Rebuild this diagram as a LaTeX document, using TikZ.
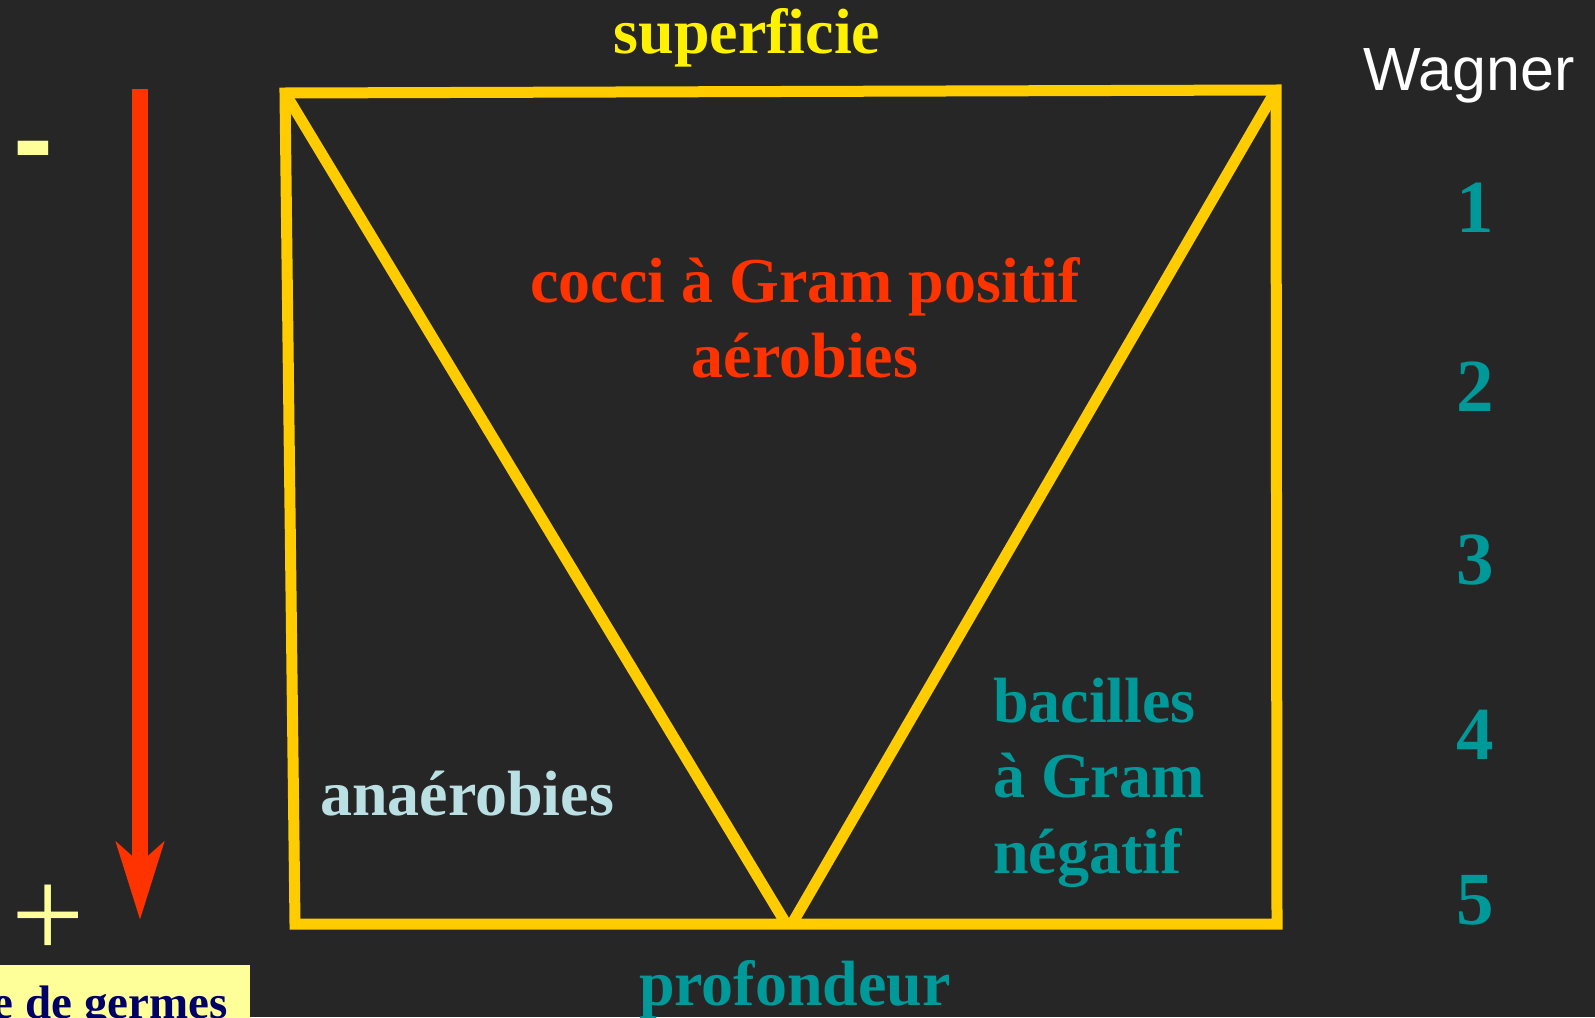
\documentclass[tikz,border=0pt]{standalone}
\usepackage{fontspec}
\setmainfont{Liberation Serif}[Ligatures=CommonOff]
\newfontfamily\arialf{Liberation Sans}
\usetikzlibrary{arrows.meta}
\definecolor{bg}{HTML}{262626}
\definecolor{boxyellow}{HTML}{FFCC00}
\definecolor{arrowred}{HTML}{FF3300}
\definecolor{tealc}{HTML}{009999}
\definecolor{lightblue}{HTML}{BBE0E3}
\definecolor{paleyellow}{HTML}{FFFF99}
\definecolor{navyc}{HTML}{000066}
\begin{document}
\begin{tikzpicture}[x=1pt,y=-1pt,
  lbl/.style={inner sep=0pt, outer sep=0pt, anchor=base, font=\bfseries\fontsize{64}{75}\selectfont},
  num/.style={inner sep=0pt, outer sep=0pt, anchor=base, text=tealc, font=\bfseries\fontsize{75}{90}\selectfont},
  frame/.style={draw=boxyellow, line width=11pt, line join=miter}]
\fill[bg] (0,0) rectangle (1595,1017);
\useasboundingbox (0,0) rectangle (1595,1017);

% frame and V
\coordinate (tl) at (285,93);
\coordinate (tr) at (1276,90);
\coordinate (br) at (1277,924);
\coordinate (bl) at (295,924);
\coordinate (vl) at (785,922);
\coordinate (vr) at (793,922);
\draw[frame] (tl) -- (tr) -- (br) -- (bl) -- cycle;
\draw[frame] (tl) -- (vl);
\draw[frame] (vr) -- (tr);

% labels
\node[lbl, text=yellow] (sup) at (747,53) {superficie};
\node[lbl, text=arrowred] (cocci1) at (805,302) {cocci à Gram positif};
\node[lbl, text=arrowred] (cocci2) at (805,377) {aérobies};
\node[lbl, text=lightblue] (anae) at (467,815) {anaérobies};
\node[lbl, text=tealc, anchor=base west] (bac1) at (993,722) {bacilles};
\node[lbl, text=tealc, anchor=base west] (bac2) at (993,797) {à Gram};
\node[lbl, text=tealc, anchor=base west] (bac3) at (993,873) {négatif};
\node[lbl, text=tealc] (prof) at (795,1005) {profondeur};

% Wagner scale
\node[inner sep=0pt, anchor=base, text=white, font=\arialf\fontsize{61}{70}\selectfont] (wag) at (1469,90) {Wagner};
\node[num] (n1) at (1475,232) {1};
\node[num] (n2) at (1475,411) {2};
\node[num] (n3) at (1475,584) {3};
\node[num] (n4) at (1475,759) {4};
\node[num] (n5) at (1475,924) {5};

% left scale
\node[inner sep=0pt, anchor=base, text=paleyellow, font=\arialf\bfseries\fontsize{120}{120}\selectfont] (minus) at (33,179) {-};
\node[inner sep=0pt, anchor=center, text=paleyellow, font=\fontsize{130}{130}\selectfont] (plus) at (48,922) {+};
\coordinate (atop) at (140,89);
\coordinate (atip) at (140,920);
\draw[arrowred, line width=16pt, -{Stealth[length=77pt,width=47pt,inset=20pt]}] (atop) -- (atip);

% germes box
\fill[paleyellow] (-10,965) rectangle (250,1030);
\node[inner sep=0pt, anchor=base east, text=navyc, font=\bfseries\fontsize{47}{50}\selectfont] (germ) at (228,1018) {e de germes};
\end{tikzpicture}
\end{document}
